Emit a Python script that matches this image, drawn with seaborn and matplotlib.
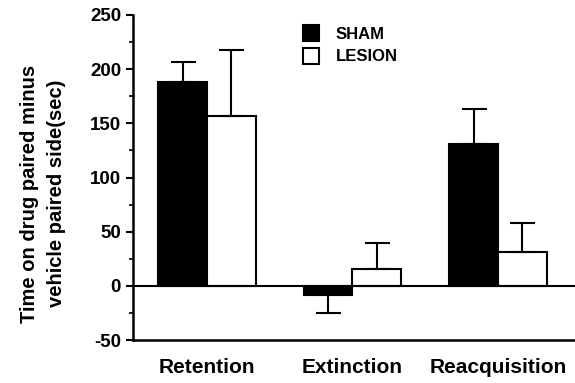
import pandas as pd
import numpy as np
import matplotlib.pyplot as plt
from matplotlib.patches import Patch
from matplotlib.ticker import MultipleLocator
import seaborn as sns

# values
phases = ['Retention', 'Extinction', 'Reacquisition']
groups = ['SHAM', 'LESION']
sham_mean = [188, -8, 131]
sham_err = [19, 17, 32]
lesion_mean = [157, 16, 31]
lesion_err = [61, 24, 27]

df = pd.DataFrame({
    'Phase': phases * 2,
    'Group': ['SHAM'] * 3 + ['LESION'] * 3,
    'Value': sham_mean + lesion_mean,
})

sns.set_style('ticks')
plt.rcParams['font.family'] = ['Liberation Sans', 'DejaVu Sans']
plt.rcParams['font.weight'] = 'bold'
plt.rcParams['axes.unicode_minus'] = False
plt.rcParams['text.color'] = 'black'
plt.rcParams['axes.labelcolor'] = 'black'
plt.rcParams['xtick.color'] = 'black'
plt.rcParams['ytick.color'] = 'black'

fig = plt.figure(figsize=(5.75, 3.83), dpi=100)
ax = fig.add_axes([0.231, 0.112, 0.769, 0.849])

sns.barplot(data=df, x='Phase', y='Value', hue='Group', hue_order=groups,
            palette={'SHAM': 'black', 'LESION': 'white'}, edgecolor='black',
            linewidth=1.5, width=0.67, errorbar=None, legend=False, ax=ax)

errs = {'SHAM': (sham_mean, sham_err), 'LESION': (lesion_mean, lesion_err)}
for cont, g in zip(ax.containers, groups):
    means, e = errs[g]
    xs = [b.get_x() + b.get_width() / 2 for b in cont]
    lo = [v if m < 0 else 0 for m, v in zip(means, e)]
    hi = [v if m >= 0 else 0 for m, v in zip(means, e)]
    ax.errorbar(xs, means, yerr=[lo, hi], fmt='none', ecolor='black',
                elinewidth=1.5, capsize=9, capthick=1.5, zorder=1)

ax.axhline(0, color='black', lw=1.5, zorder=3)
ax.set_ylim(-50, 250)
ax.set_xlim(-0.51, 2.53)
ax.yaxis.set_major_locator(MultipleLocator(50))
ax.yaxis.set_minor_locator(MultipleLocator(25))
ax.tick_params(axis='y', which='major', length=5, width=1.5, labelsize=13.5)
ax.tick_params(axis='y', which='minor', length=3, width=1.2)
ax.tick_params(axis='x', length=0, pad=13, labelsize=15)
for s in ['left', 'bottom']:
    ax.spines[s].set_linewidth(1.8)
    ax.spines[s].set_color('black')
sns.despine(ax=ax)

ax.set_xlabel('')
ax.set_ylabel('Time on drug paired minus\nvehicle paired side(sec)',
              fontsize=14.5, fontweight='bold', linespacing=1.5)
ax.yaxis.set_label_coords(-0.152, 0.45)

handles = [Patch(facecolor='black', edgecolor='black', lw=1.5),
           Patch(facecolor='white', edgecolor='black', lw=1.5)]
ax.legend(handles, groups, loc='upper left', bbox_to_anchor=(0.35, 1.015),
          frameon=False, handlelength=1.0, handleheight=1.1,
          handletextpad=1.0, labelspacing=0.35, fontsize=12)

fig.savefig('out.png', dpi=100)
